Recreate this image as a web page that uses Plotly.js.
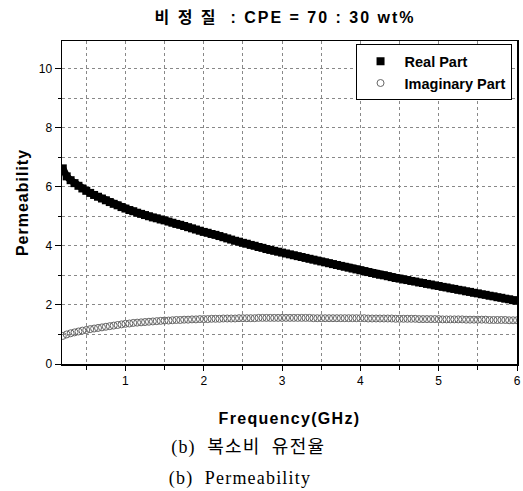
<!DOCTYPE html>
<html>
<head>
<meta charset="utf-8">
<script src="https://cdn.plot.ly/plotly-3.0.1.min.js"></script>
<style>
html,body{margin:0;padding:0;background:#fff;}
#chart{width:523px;height:491px;}
#chart .gtitle{letter-spacing:2px;}
#chart .xtitle{letter-spacing:1.3px;}
#chart .ytitle{letter-spacing:1px;}
#chart .annotation-text{letter-spacing:1.2px;}
</style>
</head>
<body>
<div id="chart"></div>
<script>
var frequency = [0.20,0.25,0.30,0.35,0.40,0.45,0.50,0.55,0.60,0.65,0.70,0.75,0.80,0.85,0.90,0.95,
1.00,1.05,1.10,1.15,1.20,1.25,1.30,1.35,1.40,1.45,1.50,1.55,1.60,1.65,1.70,1.75,1.80,1.85,1.90,1.95,
2.00,2.05,2.10,2.15,2.20,2.25,2.30,2.35,2.40,2.45,2.50,2.55,2.60,2.65,2.70,2.75,2.80,2.85,2.90,2.95,
3.00,3.05,3.10,3.15,3.20,3.25,3.30,3.35,3.40,3.45,3.50,3.55,3.60,3.65,3.70,3.75,3.80,3.85,3.90,3.95,
4.00,4.05,4.10,4.15,4.20,4.25,4.30,4.35,4.40,4.45,4.50,4.55,4.60,4.65,4.70,4.75,4.80,4.85,4.90,4.95,
5.00,5.05,5.10,5.15,5.20,5.25,5.30,5.35,5.40,5.45,5.50,5.55,5.60,5.65,5.70,5.75,5.80,5.85,5.90,5.95,6.00];

var realPart = [6.62,6.35,6.22,6.12,6.03,5.94,5.86,5.79,5.72,5.66,5.60,5.54,5.48,5.42,5.37,5.31,
5.26,5.21,5.17,5.12,5.08,5.04,5.00,4.96,4.93,4.89,4.86,4.82,4.78,4.74,4.71,4.67,4.63,4.59,4.55,4.51,
4.47,4.44,4.40,4.37,4.33,4.29,4.25,4.21,4.17,4.14,4.10,4.07,4.03,4.00,3.96,3.93,3.89,3.86,3.83,3.80,
3.77,3.74,3.71,3.68,3.65,3.62,3.59,3.56,3.53,3.50,3.47,3.44,3.41,3.38,3.35,3.32,3.29,3.26,3.23,3.20,
3.17,3.14,3.11,3.08,3.05,3.02,3.00,2.97,2.94,2.91,2.89,2.86,2.84,2.81,2.79,2.76,2.74,2.71,2.69,2.66,
2.64,2.61,2.59,2.56,2.54,2.51,2.49,2.46,2.44,2.41,2.39,2.36,2.34,2.31,2.29,2.26,2.24,2.21,2.19,2.16,2.14];

var imaginaryPart = [0.95,1.00,1.04,1.07,1.10,1.13,1.15,1.18,1.20,1.22,1.24,1.26,1.28,1.30,1.32,1.34,
1.36,1.37,1.39,1.40,1.41,1.42,1.43,1.44,1.45,1.46,1.47,1.47,1.48,1.49,1.49,1.50,1.50,1.51,1.51,1.52,
1.52,1.52,1.53,1.53,1.53,1.54,1.54,1.54,1.54,1.55,1.55,1.55,1.55,1.55,1.56,1.56,1.56,1.56,1.56,1.56,
1.56,1.56,1.56,1.56,1.56,1.56,1.56,1.56,1.55,1.55,1.55,1.55,1.55,1.55,1.55,1.55,1.55,1.55,1.55,1.55,
1.55,1.55,1.54,1.54,1.54,1.54,1.54,1.54,1.54,1.53,1.53,1.53,1.53,1.53,1.53,1.52,1.52,1.52,1.52,1.52,
1.52,1.51,1.51,1.51,1.51,1.51,1.51,1.50,1.50,1.50,1.50,1.50,1.50,1.49,1.49,1.49,1.49,1.49,1.48,1.48,1.48];

var seriesNames = ['Real Part', 'Imaginary Part'];
var chartTitle = '비 정 질  : CPE = 70 : 30 wt%';
var xTitle = 'Frequency(GHz)';
var yTitle = 'Permeability';
var caption1 = '(b)  복소비  유전율';
var caption2 = '(b)  Permeability';

var sans = 'Liberation Sans, Arial, Noto Sans CJK KR, sans-serif';
var serif = 'Liberation Serif, Times New Roman, Noto Sans CJK KR, serif';

var traces = [
  {x: frequency, y: realPart, name: seriesNames[0], type: 'scatter', mode: 'lines', showlegend: false,
   line: {color: '#000', width: 7}, hoverinfo: 'skip'},
  {x: frequency, y: realPart, name: seriesNames[0], type: 'scatter', mode: 'markers',
   marker: {symbol: 'square', size: 8, color: '#000'}},
  {x: frequency, y: imaginaryPart, name: seriesNames[1], type: 'scatter', mode: 'markers',
   marker: {symbol: 'circle-open', size: 7, color: '#666', line: {width: 1, color: '#666'}}}
];

var layout = {
  width: 523, height: 491,
  margin: {l: 62, r: 6, t: 41, b: 126.5},
  paper_bgcolor: '#fff', plot_bgcolor: '#fff',
  showlegend: true,
  title: {text: '<b>' + chartTitle + '</b>', x: 0.545, xanchor: 'center', y: 0.965, yanchor: 'middle', yref: 'container',
          font: {family: sans, size: 16, color: '#000'}},
  xaxis: {
    range: [0.19, 6.0], tickvals: [1,2,3,4,5,6], ticks: 'outside', ticklen: 5, tickwidth: 1, tickcolor: '#000',
    showline: true, linecolor: '#000', linewidth: 1.5, mirror: true, zeroline: false,
    gridcolor: '#888', griddash: 'dot', gridwidth: 1,
    tickfont: {family: sans, size: 12, color: '#000'},
    minor: {dtick: 0.5, tick0: 0, ticks: 'outside', ticklen: 4, tickcolor: '#000', showgrid: true, gridcolor: '#888', griddash: 'dot'},
    title: {text: '<b>' + xTitle + '</b>', standoff: 26, font: {family: sans, size: 16, color: '#000'}}
  },
  yaxis: {
    range: [0, 10.93], tickvals: [0,2,4,6,8,10], ticks: 'outside', ticklen: 6, tickwidth: 1, tickcolor: '#000',
    showline: true, linecolor: '#000', linewidth: 1.5, mirror: true, zeroline: false,
    gridcolor: '#888', griddash: 'dot', gridwidth: 1,
    tickfont: {family: sans, size: 12, color: '#000'},
    minor: {dtick: 1, tick0: 0, ticks: 'outside', ticklen: 3, tickcolor: '#000', showgrid: true, gridcolor: '#888', griddash: 'dot'},
    title: {text: '<b>' + yTitle + '</b>', standoff: 6, font: {family: sans, size: 16, color: '#000'}}
  },
  legend: {x: 0.988, xanchor: 'right', y: 0.99, yanchor: 'top', bgcolor: '#fff', bordercolor: '#000', borderwidth: 1,
           font: {family: sans, size: 14.5, color: '#000', weight: 'bold'}, tracegroupgap: 0, itemwidth: 38},
  annotations: [
    {text: caption1, xref: 'paper', yref: 'paper', x: 0.2527, y: -0.26, xanchor: 'left', yanchor: 'middle', showarrow: false,
     font: {family: serif, size: 18, color: '#000'}},
    {text: caption2, xref: 'paper', yref: 'paper', x: 0.2527, y: -0.355, xanchor: 'left', yanchor: 'middle', showarrow: false,
     font: {family: serif, size: 18, color: '#000'}}
  ]
};

Plotly.newPlot('chart', traces, layout, {displayModeBar: false, staticPlot: true});
</script>
</body>
</html>
